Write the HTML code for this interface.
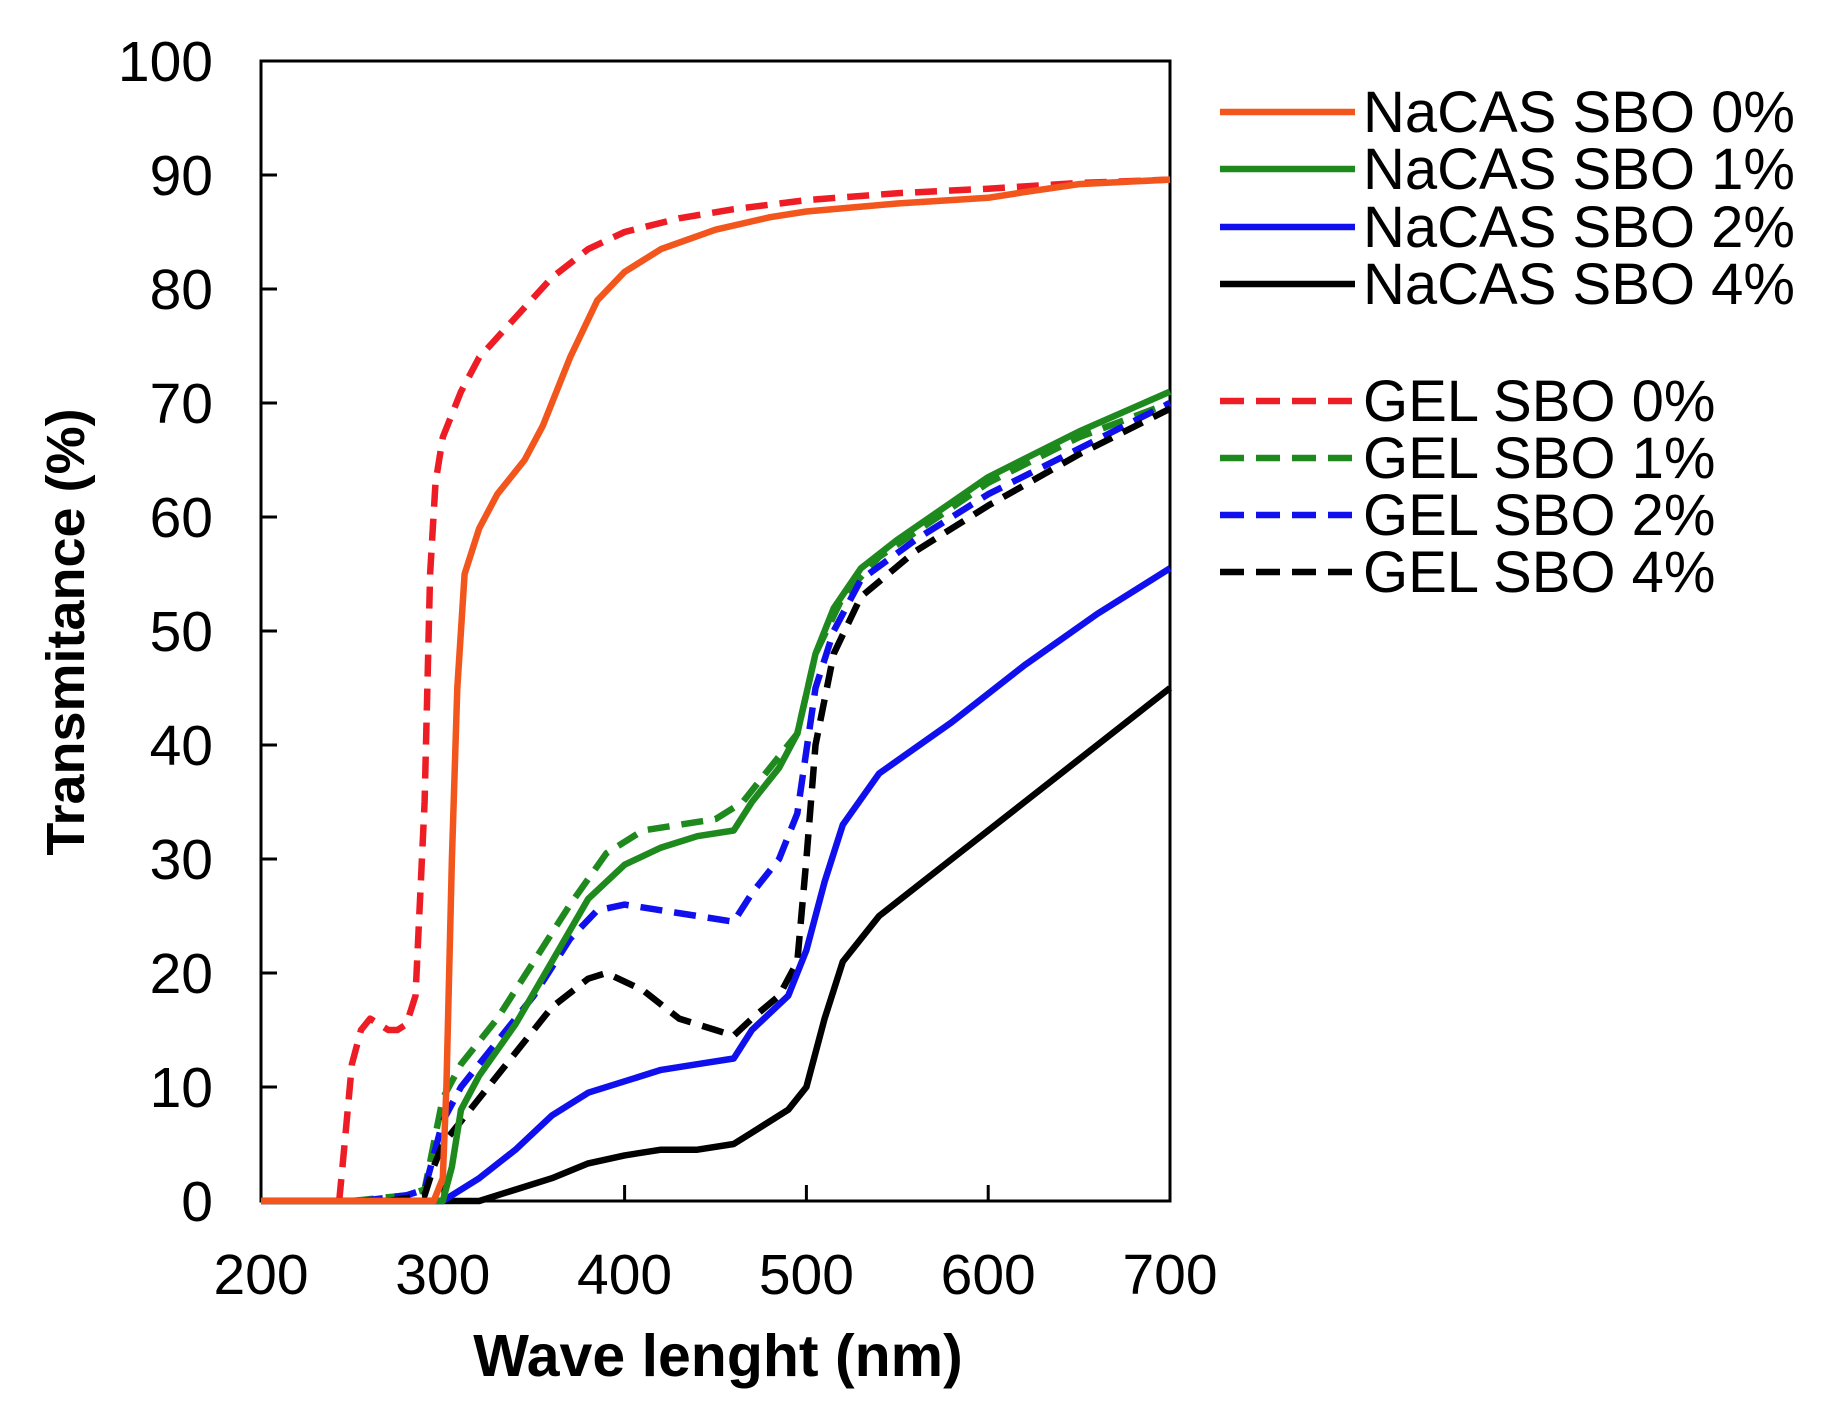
<!DOCTYPE html>
<html><head><meta charset="utf-8">
<style>
html,body{margin:0;padding:0;background:#fff;}
svg{display:block;font-family:"Liberation Sans",Arial,sans-serif;}
</style></head>
<body>
<svg id="chart" width="1822" height="1424" viewBox="0 0 1822 1424" xmlns="http://www.w3.org/2000/svg">
<g id="axes"></g>
<g id="series"></g>
<g id="legend"></g>
<text transform="translate(84,632) rotate(-90)" text-anchor="middle" font-size="54" font-weight="bold">Transmitance (%)</text>
<text x="718" y="1376" text-anchor="middle" font-size="59" font-weight="bold">Wave lenght (nm)</text>
</svg>
<script>
const xTicks = [200, 300, 400, 500, 600, 700];
const yTicks = [0, 10, 20, 30, 40, 50, 60, 70, 80, 90, 100];
const seriesNames = ["NaCAS SBO 0%","NaCAS SBO 1%","NaCAS SBO 2%","NaCAS SBO 4%","GEL SBO 0%","GEL SBO 1%","GEL SBO 2%","GEL SBO 4%"];
const seriesColors = ["#f2561d","#1e8a1e","#1010ee","#000000","#ee1c24","#1e8a1e","#1010ee","#000000"];
const seriesDashed = [false,false,false,false,true,true,true,true];
const nacas0X = [200,295,300,302,305,308,312,320,330,345,355,370,385,400,420,450,480,500,550,600,620,650,700];
const nacas0Y = [0,0,2,10,30,45,55,59,62,65,68,74,79,81.5,83.5,85.2,86.3,86.8,87.5,88,88.5,89.2,89.6];
const nacas1X = [200,300,305,310,320,340,360,380,400,420,440,460,470,485,495,505,515,530,550,600,650,700];
const nacas1Y = [0,0,3,8,11,15.5,21,26.5,29.5,31,32,32.5,35,38,41,48,52,55.5,58,63.5,67.5,71];
const nacas2X = [200,300,320,340,360,380,400,420,440,460,470,490,500,510,520,540,580,620,660,700];
const nacas2Y = [0,0,2,4.5,7.5,9.5,10.5,11.5,12,12.5,15,18,22,28,33,37.5,42,47,51.5,55.5];
const nacas4X = [200,320,340,360,380,400,420,440,460,470,490,500,510,520,540,580,620,660,700];
const nacas4Y = [0,0,1,2,3.3,4,4.5,4.5,5,6,8,10,16,21,25,30,35,40,45];
const gel0X = [243,246,250,255,260,265,270,275,280,285,290,293,296,300,310,320,340,360,380,400,430,460,500,550,600,650,700];
const gel0Y = [0,5,12,15,16,15.5,15,15,15.5,18,35,55,63,67,71,74,77.5,81,83.5,85,86.2,87,87.8,88.4,88.8,89.3,89.6];
const gel1X = [250,280,290,295,300,310,330,350,370,390,410,430,450,465,480,495,505,520,540,600,650,700];
const gel1Y = [0,0.5,1,5,9,12,16,21,26,30.5,32.5,33,33.5,35,38,41,48,53,56.5,63,67,70];
const gel2X = [255,280,290,295,300,310,330,350,370,385,400,420,440,460,470,485,495,505,515,530,560,600,650,700];
const gel2Y = [0,0.5,1,4,7,10,14,18,23,25.5,26,25.5,25,24.5,27,30,34,45,50,54.5,58,62,66,70];
const gel4X = [270,290,295,300,320,340,360,380,390,410,430,450,460,470,485,495,500,505,515,530,560,600,650,700];
const gel4Y = [0,0.5,3,5,9,13,17,19.5,20,18.5,16,15,14.5,16,18,21,30,40,48,53,57,61,65.5,69.5];
const seriesX = [nacas0X,nacas1X,nacas2X,nacas4X,gel0X,gel1X,gel2X,gel4X];
const seriesY = [nacas0Y,nacas1Y,nacas2Y,nacas4Y,gel0Y,gel1Y,gel2Y,gel4Y];

const NS="http://www.w3.org/2000/svg";
const L=261,R=1170,T=61,B=1201;
const xs=v=>L+(v-200)/500*(R-L);
const ys=v=>B-v/100*(B-T);
function mk(tag,attrs,parent){const e=document.createElementNS(NS,tag);for(const k in attrs)e.setAttribute(k,attrs[k]);parent.appendChild(e);return e;}
const axes=document.getElementById('axes');
const frame=mk('rect',{x:L,y:T,width:R-L,height:B-T,fill:'none',stroke:'#000','stroke-width':3},axes);


xTicks.forEach(t=>{
  const ln=mk('line',{x1:xs(t),x2:xs(t),y1:B,y2:B-16,stroke:'#000','stroke-width':3},axes);
  
  
  const tx=mk('text',{x:xs(t),y:1294,'text-anchor':'middle','font-size':57},axes);
  tx.textContent=t;
  
  
});
yTicks.forEach(t=>{
  const ln=mk('line',{x1:L,x2:L+16,y1:ys(t),y2:ys(t),stroke:'#000','stroke-width':3},axes);
  
  
  const tx=mk('text',{x:213,y:ys(t)+20,'text-anchor':'end','font-size':57},axes);
  tx.textContent=t;
  
  
});
const sg=document.getElementById('series');
const lg=document.getElementById('legend');
const legY=[112,169,227,284,401,458,515,572];
const order=[4,5,6,7,3,2,1,0];
order.forEach(i=>{
  const d=seriesX[i].map((x,j)=>(j?'L':'M')+xs(x).toFixed(1)+','+ys(seriesY[i][j]).toFixed(1)).join(' ');
  const p=mk('path',{d:d,fill:'none',stroke:seriesColors[i],'stroke-width':6.5,'stroke-linejoin':'round','stroke-dasharray':seriesDashed[i]?'22 12':'none'},sg);
  
  
});
seriesNames.forEach((n,i)=>{
  const g=mk('g',{},lg);
  
  
  mk('line',{x1:1220,x2:1355,y1:legY[i],y2:legY[i],stroke:seriesColors[i],'stroke-width':6.5,'stroke-dasharray':seriesDashed[i]?'24 12':'none'},g);
  const tx=mk('text',{x:1363,y:legY[i]+20,'font-size':58},g);
  tx.textContent=n;
});
</script>
</body></html>
